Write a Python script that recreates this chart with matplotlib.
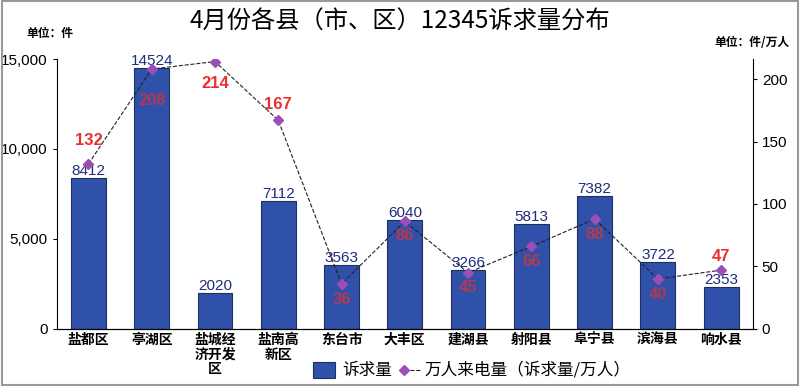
import matplotlib.pyplot as plt
from matplotlib.lines import Line2D
import matplotlib.patches as mpatches

plt.rcParams['font.family'] = ['Noto Sans CJK SC', 'DejaVu Sans']

regions = ['盐都区', '亭湖区', '盐城经\n济开发\n区', '盐南高\n新区', '东台市', '大丰区',
           '建湖县', '射阳县', '阜宁县', '滨海县', '响水县']
counts = [8412, 14524, 2020, 7112, 3563, 6040, 3266, 5813, 7382, 3722, 2353]
per_10k = [132, 208, 214, 167, 36, 86, 45, 66, 88, 40, 47]
# label offset in points (positive = above the marker)
lbl_off = [17, -23, -16, 11, -11, -10, -11, -11, -11, -11, 10]

bar_color = '#2F51AA'
dot_color = '#9B4FB5'
num_font = ['Liberation Sans', 'DejaVu Sans']
fig = plt.figure(figsize=(8, 3.86), dpi=100)
fig.patches.append(mpatches.Rectangle((0.002, 0.003), 0.996, 0.994, transform=fig.transFigure,
                                      fill=False, edgecolor='#999999', linewidth=1.5))
ax = fig.add_axes([0.071, 0.148, 0.870, 0.699])
x = list(range(len(regions)))

ax.bar(x, counts, width=0.55, color=bar_color, edgecolor='#1E2F60', linewidth=0.8, zorder=2)
for i, v in enumerate(counts):
    ax.annotate(str(v), (i, v), xytext=(0, 0), textcoords='offset points', ha='center', va='bottom',
                fontsize=11, color='#1F2C7C', family=num_font)
ax.set_xlim(-0.5, 10.5)
ax.set_ylim(0, 15000)
ax.set_yticks([0, 5000, 10000, 15000])
ax.set_yticklabels(['0', '5,000', '10,000', '15,000'])
ax.set_xticks(x)
ax.set_xticklabels(regions, fontsize=10, fontweight='bold', linespacing=1.05)
ax.tick_params(axis='x', length=0, pad=3)
ax.tick_params(axis='y', labelsize=11, length=3)
for lbl in ax.get_yticklabels():
    lbl.set_family(num_font)
for s in ['top', 'right']:
    ax.spines[s].set_visible(False)

ax2 = ax.twinx()
ax2.plot(x, per_10k, linestyle='--', color='#222222', linewidth=0.8, marker='D', markersize=5,
         markerfacecolor=dot_color, markeredgecolor=dot_color, zorder=3)
ax2.set_ylim(0, 216)
ax2.set_yticks([0, 50, 100, 150, 200])
ax2.tick_params(axis='y', labelsize=11, length=3)
for lbl in ax2.get_yticklabels():
    lbl.set_family(num_font)
for s in ['top', 'left']:
    ax2.spines[s].set_visible(False)
for i, v in enumerate(per_10k):
    inside = v * 15000 / 216 < counts[i]
    ax2.annotate(str(v), (i, v), xytext=(0, lbl_off[i]), textcoords='offset points',
                 ha='center', va='center', fontsize=12,
                 fontweight='bold', color='#E8302E', alpha=0.7 if inside else 1.0,
                 family=num_font)

fig.text(0.5, 0.943, '4月份各县（市、区）12345诉求量分布', ha='center', va='center', fontsize=17.5)
fig.text(0.062, 0.914, '单位：件', ha='center', va='center', fontsize=8.5, fontweight='bold')
fig.text(0.940, 0.890, '单位：件/万人', ha='center', va='center', fontsize=8.5, fontweight='bold')

# legend, drawn by hand so the marker sits at the left end of the dashes
ly = 1 - 370 / 386
fig.patches.append(mpatches.Rectangle((313 / 800, ly - 8 / 386), 22 / 800, 16 / 386,
                                      transform=fig.transFigure, facecolor=bar_color,
                                      edgecolor='#1E2F60', linewidth=0.8))
fig.text(342 / 800, ly, '诉求量', ha='left', va='center', fontsize=12)
fig.lines.append(Line2D([404 / 800, 421 / 800], [ly, ly], transform=fig.transFigure,
                        linestyle='--', color='#222222', linewidth=0.8))
fig.lines.append(Line2D([404 / 800], [ly], transform=fig.transFigure, marker='D', markersize=5,
                        linestyle='none', markerfacecolor=dot_color, markeredgecolor=dot_color))
fig.text(424 / 800, ly, '万人来电量（诉求量/万人）', ha='left', va='center', fontsize=12)

fig.savefig('out.png', dpi=100)
